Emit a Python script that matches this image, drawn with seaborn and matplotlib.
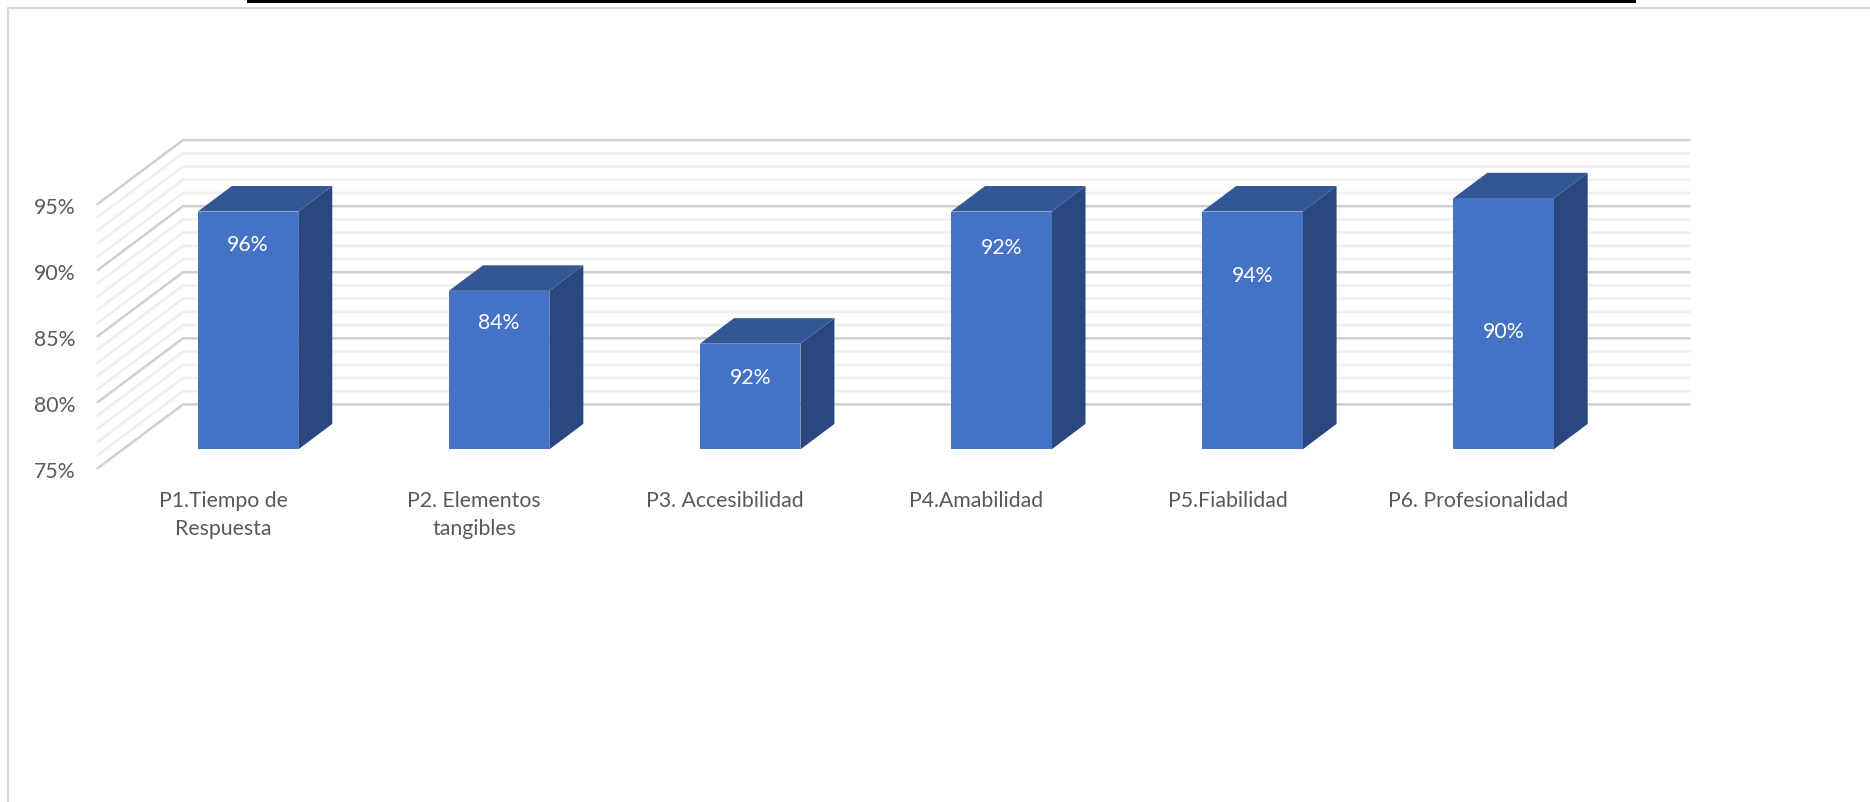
import matplotlib
matplotlib.use("Agg")
import matplotlib.pyplot as plt
import pandas as pd
import seaborn as sns
from matplotlib.patches import Polygon, Rectangle
from matplotlib.transforms import ScaledTranslation

# Data
categories = ["P1.Tiempo de\nRespuesta", "P2. Elementos\ntangibles", "P3. Accesibilidad",
              "P4.Amabilidad", "P5.Fiabilidad", "P6. Profesionalidad"]
bar_heights = [93, 87, 83, 93, 93, 94]
bar_labels = ["96%", "84%", "92%", "92%", "94%", "90%"]
y_ticks = [75, 80, 85, 90, 95]
y_minor = [76, 77, 78, 79, 81, 82, 83, 84, 86, 87, 88, 89, 91, 92, 93, 94]

# Layout, in pixels of the 1870x802 output
W, H = 1870, 802
DPI = 100
AX_L, AX_R, AX_B, AX_T = 122.5, 1629, 449.4, 185.1
label_drop = [33, 32, 34, 36, 64, 134]

plt.rcParams["font.family"] = ["Lato", "DejaVu Sans"]
sns.set_theme(style="white")
plt.rcParams["font.family"] = ["Lato", "DejaVu Sans"]

fig = plt.figure(figsize=(W / DPI, H / DPI), dpi=DPI)
ax = fig.add_axes([AX_L / W, 1 - AX_B / H, (AX_R - AX_L) / W, (AX_B - AX_T) / H])
ax.patch.set_alpha(0)

df = pd.DataFrame({"cat": categories, "val": bar_heights})
sns.barplot(data=df, x="cat", y="val", color="#4472C4", saturation=1, width=0.4, ax=ax)
ax.set_xlim(-0.5, 5.5)
ax.set_ylim(75, 95)
ax.set_xlabel("")
ax.set_ylabel("")
sns.despine(ax=ax, left=True, bottom=True, top=True, right=True)

px_x = (AX_R - AX_L) / 6  # pixels per category
px_y = (AX_B - AX_T) / 20  # pixels per percent point

# 3D walls: offsets from the plane the bars stand on
back_dx, back_dy = 60.5 / px_x, 45 / px_y
front_dx, front_dy = -25 / px_x, -19 / px_y
depth_x, depth_y = 34 / px_x, 25.5 / px_y


def wall_lines(values, color, lw):
    for v in values:
        ax.plot([-0.5 + front_dx, -0.5 + back_dx, 5.5 + back_dx],
                [v + front_dy, v + back_dy, v + back_dy],
                color=color, lw=lw, clip_on=False, zorder=1, solid_joinstyle="miter")


wall_lines(y_minor, "#F0F0F0", 1.9)
wall_lines(y_ticks, "#D0D0D0", 1.8)

# side and top faces built from the bars seaborn drew
for bar, text, drop in zip(ax.patches, bar_labels, label_drop):
    x0, x1 = bar.get_x(), bar.get_x() + bar.get_width()
    top = bar.get_height()
    bar.set_zorder(4)
    bar.set_linewidth(0)
    ax.add_patch(Polygon([(x1, 75), (x1 + depth_x, 75 + depth_y), (x1 + depth_x, top + depth_y), (x1, top)],
                         closed=True, fc="#2A4880", ec="none", clip_on=False, zorder=3))
    ax.add_patch(Polygon([(x0, top), (x1, top), (x1 + depth_x, top + depth_y), (x0 + depth_x, top + depth_y)],
                         closed=True, fc="#335795", ec="none", clip_on=False, zorder=3))
    ax.text((x0 + x1) / 2, top - drop / px_y, text, color="white", fontsize=15.3,
            ha="center", va="center", zorder=5)

# tick labels sit on the front edge of the walls
ax.set_yticks(y_ticks)
ax.set_yticklabels([f"{v}%" for v in y_ticks])
ax.tick_params(axis="both", length=0, labelsize=15.3, labelcolor="#595959")
ax.tick_params(axis="y", pad=33.5)
ax.tick_params(axis="x", pad=30)
shift_x = ScaledTranslation(-25 / DPI, 0, fig.dpi_scale_trans)
shift_y = ScaledTranslation(0, -20.5 / DPI, fig.dpi_scale_trans)
for lab in ax.get_xticklabels():
    lab.set_transform(lab.get_transform() + shift_x)
    lab.set_linespacing(1.5)
for lab in ax.get_yticklabels():
    lab.set_transform(lab.get_transform() + shift_y)

# page frame and the black rule cut off at the top
fig.add_artist(plt.Line2D([8 / W, 8 / W, 1], [0, 1 - 8 / H, 1 - 8 / H], color="#D9D9D9", lw=1.6))
fig.add_artist(Rectangle((247 / W, 1 - 3 / H), (1636 - 247) / W, 3 / H, transform=fig.transFigure,
                         fc="black", ec="none"))

fig.savefig("out.png", dpi=DPI, facecolor="white")
